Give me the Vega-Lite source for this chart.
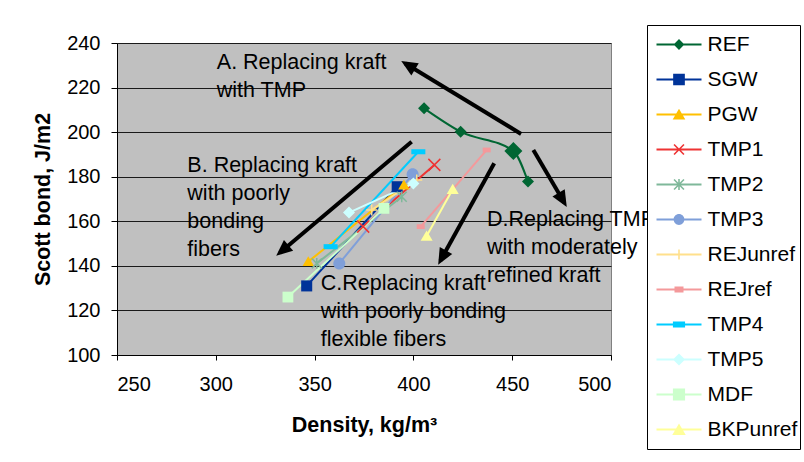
{
  "$schema": "https://vega.github.io/schema/vega-lite/v6.json",
  "width": 494,
  "height": 312,
  "autosize": "none",
  "padding": {"left": 117, "top": 43, "right": 193, "bottom": 107},
  "background": "white",
  "config": {
    "font": "Liberation Sans",
    "view": {"fill": "#C0C0C0", "stroke": "#808080", "strokeWidth": 1},
    "axis": {"labelFont": "Liberation Sans", "titleFont": "Liberation Sans", "labelColor": "#000", "titleColor": "#000", "domainColor": "#000", "tickColor": "#000"}
  },
  "datasets": {
    "series": [
      {"series": "REF", "density": 405.4, "bond": 210.7},
      {"series": "REF", "density": 423.9, "bond": 200.2},
      {"series": "REF", "density": 450.6, "bond": 191.5},
      {"series": "REF", "density": 458.0, "bond": 177.8},
      {"series": "SGW", "density": 346.0, "bond": 131.0},
      {"series": "SGW", "density": 391.8, "bond": 175.5},
      {"series": "PGW", "density": 346.8, "bond": 141.9},
      {"series": "PGW", "density": 395.2, "bond": 176.3},
      {"series": "TMP1", "density": 374.6, "bond": 157.6},
      {"series": "TMP1", "density": 410.6, "bond": 185.3},
      {"series": "TMP2", "density": 351.1, "bond": 141.1},
      {"series": "TMP2", "density": 394.1, "bond": 171.0},
      {"series": "TMP3", "density": 362.5, "bond": 141.1},
      {"series": "TMP3", "density": 399.6, "bond": 181.1},
      {"series": "REJunref", "density": 378.9, "bond": 165.1},
      {"series": "REJunref", "density": 401.7, "bond": 178.5},
      {"series": "REJref", "density": 403.7, "bond": 157.6},
      {"series": "REJref", "density": 437.1, "bond": 192.0},
      {"series": "TMP4", "density": 358.1, "bond": 148.6},
      {"series": "TMP4", "density": 402.5, "bond": 191.2},
      {"series": "TMP5", "density": 367.4, "bond": 163.9},
      {"series": "TMP5", "density": 400.0, "bond": 177.0},
      {"series": "MDF", "density": 336.5, "bond": 126.0},
      {"series": "MDF", "density": 385.1, "bond": 165.8},
      {"series": "BKPunref", "density": 406.7, "bond": 153.4},
      {"series": "BKPunref", "density": 419.9, "bond": 174.4}
    ],
    "arrows": [
      {"arrow": "A", "density": 454.5, "bond": 199.2, "density2": 395.9, "bond2": 230.8},
      {"arrow": "B", "density": 399.1, "bond": 195.7, "density2": 332.4, "bond2": 145.9},
      {"arrow": "C", "density": 440.9, "bond": 186.0, "density2": 413.7, "bond2": 142.4},
      {"arrow": "D", "density": 460.7, "bond": 192.0, "density2": 476.4, "bond2": 168.3}
    ],
    "notes": [
      {"note": "A. Replacing kraft\nwith TMP", "density": 300.5, "bond": 228.3},
      {"note": "B. Replacing kraft\nwith poorly\nbonding\nfibers", "density": 285.6, "bond": 182.1},
      {"note": "C.Replacing kraft\nwith poorly bonding\nflexible fibers", "density": 353.1, "bond": 129.2},
      {"note": "D.Replacing TMP\nwith moderately\nrefined kraft", "density": 437.2, "bond": 157.9}
    ]
  },
  "encoding": {
    "x": {
      "field": "density", "type": "quantitative",
      "scale": {"domain": [250, 500], "nice": false, "zero": false},
      "axis": {"values": [250, 300, 350, 400, 450, 500], "grid": false, "tickSize": 5, "labelFontSize": 20, "labelPadding": 14, "titleFontSize": 21.5, "titleFontWeight": "bold", "titlePadding": 20},
      "title": "Density, kg/m³"
    },
    "y": {
      "field": "bond", "type": "quantitative",
      "scale": {"domain": [100, 240], "nice": false, "zero": false},
      "axis": {"values": [100, 120, 140, 160, 180, 200, 220, 240], "grid": true, "gridColor": "#1a1a1a", "gridWidth": 1, "gridOpacity": 1, "tickSize": 6, "labelFontSize": 20, "labelPadding": 11, "titleFontSize": 21.5, "titleFontWeight": "bold", "titlePadding": 12},
      "title": "Scott bond, J/m2"
    }
  },
  "layer": [
    {
      "data": {"name": "series"},
      "mark": {"type": "line", "strokeWidth": 2, "interpolate": "monotone"},
      "encoding": {
        "color": {"field": "series", "type": "nominal", "legend": null,
          "scale": {"domain": ["REF", "SGW", "PGW", "TMP1", "TMP2", "TMP3", "REJunref", "REJref", "TMP4", "TMP5", "MDF", "BKPunref"],
                    "range": ["#006633", "#003399", "#FFC000", "#EE3333", "#7FB89A", "#7F9FD9", "#FFE08C", "#F4999B", "#00CCFF", "#CCFFFF", "#CCFFCC", "#FFFF99"]}}
      }
    },
    {
      "data": {"name": "series"},
      "mark": {"type": "point", "filled": true, "opacity": 1, "size": 144, "strokeWidth": 0},
      "encoding": {
        "color": {"field": "series", "type": "nominal", "legend": null,
          "scale": {"domain": ["REF", "SGW", "PGW", "TMP1", "TMP2", "TMP3", "REJunref", "REJref", "TMP4", "TMP5", "MDF", "BKPunref"],
                    "range": ["#006633", "#003399", "#FFC000", "#EE3333", "#7FB89A", "#7F9FD9", "#FFE08C", "#F4999B", "#00CCFF", "#CCFFFF", "#CCFFCC", "#FFFF99"]}},
        "shape": {"field": "series", "type": "nominal", "legend": null,
          "scale": {"domain": ["REF", "SGW", "PGW", "TMP1", "TMP2", "TMP3", "REJunref", "REJref", "TMP4", "TMP5", "MDF", "BKPunref"],
                    "range": [
                      "M0,-1L1,0L0,1L-1,0Z",
                      "M-0.92,-0.92H0.92V0.92H-0.92Z",
                      "M0,-0.9L0.95,0.75H-0.95Z",
                      "M-0.912,-1.088L1.088,0.912L0.912,1.088L-1.088,-0.912ZM1.088,-0.912L-0.912,1.088L-1.088,0.912L0.912,-1.088Z",
                      "M-0.742,-0.918L0.918,0.742L0.742,0.918L-0.918,-0.742ZM0.918,-0.742L-0.742,0.918L-0.918,0.742L0.742,-0.918ZM-0.125,-0.9H0.125V0.9H-0.125Z",
                      "M-1,0A1,1 0 1,1 1,0A1,1 0 1,1 -1,0Z",
                      "M-0.125,-0.92H0.125V0.92H-0.125ZM-0.92,-0.125H0.92V0.125H-0.92Z",
                      "M-0.67,-0.4H0.67V0.4H-0.67Z",
                      "M-1.17,-0.42H1.17V0.42H-1.17Z",
                      "M0,-1L1,0L0,1L-1,0Z",
                      "M-0.9,-0.9H0.9V0.9H-0.9Z",
                      "M0,-0.9L1,0.8H-1Z"
                    ]}}
      }
    },
    {
      "data": {"name": "series"},
      "transform": [{"filter": "datum.series === 'REF' && datum.density > 445 && datum.density < 455"}],
      "mark": {"type": "point", "filled": true, "opacity": 1, "size": 324, "strokeWidth": 0, "color": "#006633", "shape": "M0,-1L1,0L0,1L-1,0Z"}
    },
    {
      "data": {"name": "series"},
      "transform": [{"filter": "false"}],
      "mark": {"type": "point", "filled": true, "opacity": 1},
      "encoding": {
        "color": {"field": "series", "type": "nominal",
          "scale": {"domain": ["REF", "SGW", "PGW", "TMP1", "TMP2", "TMP3", "REJunref", "REJref", "TMP4", "TMP5", "MDF", "BKPunref"],
                    "range": ["#006633", "#003399", "#FFC000", "#EE3333", "#7FB89A", "#7F9FD9", "#FFE08C", "#F4999B", "#00CCFF", "#CCFFFF", "#CCFFCC", "#FFFF99"]},
          "legend": {"title": null, "orient": "none", "legendX": 530, "legendY": -18, "strokeColor": "#000", "fillColor": "#fff", "padding": 2,
            "symbolSize": 2025, "symbolStrokeWidth": 0, "symbolOffset": 7.5, "labelFontSize": 21, "labelFont": "Liberation Sans", "labelColor": "#000",
            "labelOffset": 6, "clipHeight": 35, "rowPadding": 0, "labelLimit": 300}},
        "shape": {"field": "series", "type": "nominal",
          "scale": {"domain": ["REF", "SGW", "PGW", "TMP1", "TMP2", "TMP3", "REJunref", "REJref", "TMP4", "TMP5", "MDF", "BKPunref"],
                    "range": [
                      "M-1,-0.044H1V0.044H-1ZM0,-0.24L0.24,0L0,0.24L-0.24,0Z",
                      "M-1,-0.044H1V0.044H-1ZM-0.26,-0.26H0.26V0.26H-0.26Z",
                      "M-1,-0.044H1V0.044H-1ZM0,-0.26L0.28,0.22H-0.28Z",
                      "M-1,-0.044H1V0.044H-1ZM-0.195,-0.245L0.245,0.195L0.195,0.245L-0.245,-0.195ZM0.245,-0.195L-0.195,0.245L-0.245,0.195L0.195,-0.245Z",
                      "M-1,-0.044H1V0.044H-1ZM-0.195,-0.245L0.245,0.195L0.195,0.245L-0.245,-0.195ZM0.245,-0.195L-0.195,0.245L-0.245,0.195L0.195,-0.245ZM-0.035,-0.24H0.035V0.24H-0.035Z",
                      "M-1,-0.044H1V0.044H-1ZM-0.24,0A0.24,0.24 0 1,1 0.24,0A0.24,0.24 0 1,1 -0.24,0Z",
                      "M-1,-0.044H1V0.044H-1ZM-0.035,-0.22H0.035V0.22H-0.035ZM-0.22,-0.035H0.22V0.035H-0.22Z",
                      "M-1,-0.044H1V0.044H-1ZM-0.2,-0.13H0.2V0.13H-0.2Z",
                      "M-1,-0.044H1V0.044H-1ZM-0.27,-0.13H0.27V0.13H-0.27Z",
                      "M-1,-0.044H1V0.044H-1ZM0,-0.27L0.27,0L0,0.27L-0.27,0Z",
                      "M-1,-0.044H1V0.044H-1ZM-0.27,-0.27H0.27V0.27H-0.27Z",
                      "M-1,-0.044H1V0.044H-1ZM0,-0.27L0.3,0.24H-0.3Z"
                    ]}}
      }
    },
    {
      "data": {"name": "arrows"},
      "mark": {"type": "rule", "color": "#000", "strokeWidth": 4, "strokeCap": "butt"},
      "encoding": {
        "x2": {"field": "density2"},
        "y2": {"field": "bond2"}
      }
    },
    {
      "data": {"name": "arrows"},
      "transform": [{"calculate": "atan2((datum.density2 - datum.density) * 1.976, (datum.bond2 - datum.bond) * 2.2286) * 180 / PI", "as": "ang"}],
      "mark": {"type": "point", "filled": true, "opacity": 1, "color": "#000", "size": 361, "strokeWidth": 0, "shape": "M0,-0.5L0.75,1.2L-0.75,1.2Z"},
      "encoding": {
        "x": {"field": "density2", "type": "quantitative", "title": "Density, kg/m³"},
        "y": {"field": "bond2", "type": "quantitative", "title": "Scott bond, J/m2"},
        "angle": {"field": "ang", "type": "quantitative", "scale": null}
      }
    },
    {
      "data": {"name": "notes"},
      "mark": {"type": "text", "align": "left", "baseline": "alphabetic", "lineBreak": "\n", "lineHeight": 28, "fontSize": 21.5, "font": "Liberation Sans", "color": "#000"},
      "encoding": {
        "text": {"field": "note", "type": "nominal"}
      }
    }
  ],
  "resolve": {"scale": {"color": "independent", "shape": "independent"}}
}
